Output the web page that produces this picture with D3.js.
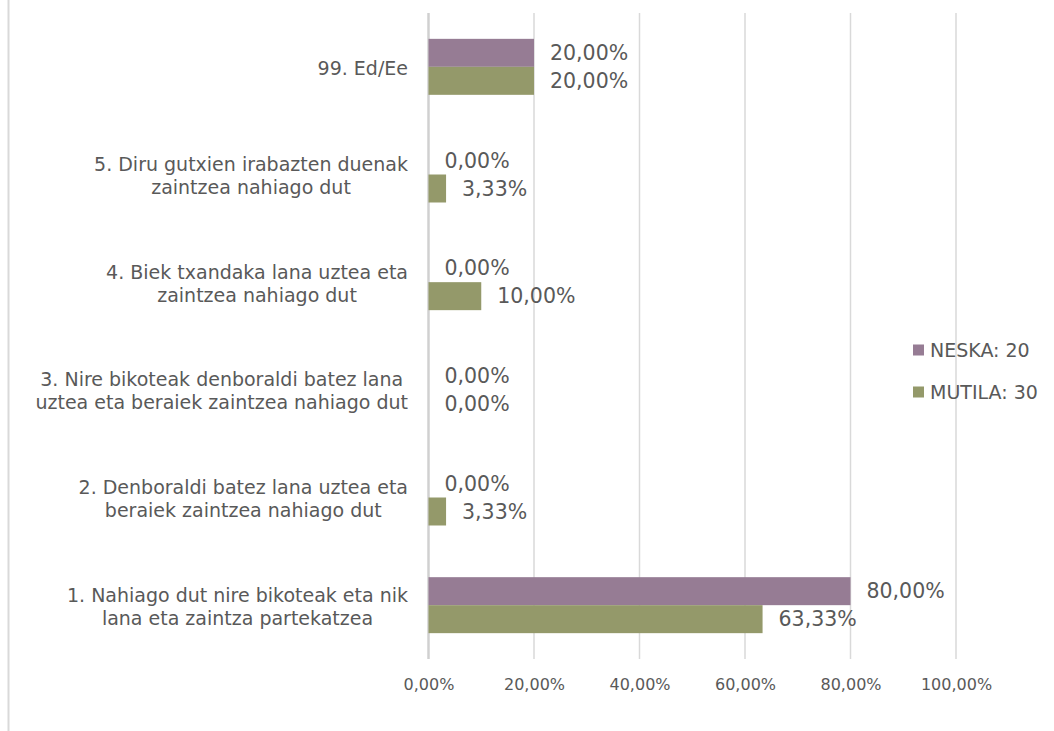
<!DOCTYPE html>
<html>
<head>
<meta charset="utf-8">
<script src="https://cdn.jsdelivr.net/npm/d3@7"></script>
<style>
  html, body { margin: 0; padding: 0; background: #fff; }
  svg { display: block; }
  text { font-family: "Century Gothic", "DejaVu Sans", sans-serif; fill: #595959; }
</style>
</head>
<body>
<svg id="chart" width="1054" height="731"></svg>
<script>
// Answer categories, top to bottom; each entry holds the label's lines
const categories = [
  ["99. Ed/Ee"],
  ["5. Diru gutxien irabazten duenak", "zaintzea nahiago dut"],
  ["4. Biek txandaka lana uztea eta", "zaintzea nahiago dut"],
  ["3. Nire bikoteak denboraldi batez lana", "uztea eta beraiek zaintzea nahiago dut"],
  ["2. Denboraldi batez lana uztea eta", "beraiek zaintzea nahiago dut"],
  ["1. Nahiago dut nire bikoteak eta nik", "lana eta zaintza partekatzea"]
];
const seriesNames = ["NESKA: 20", "MUTILA: 30"];
const neska  = [20, 0, 0, 0, 0, 80];
const mutila = [20, 3.33, 10, 0, 3.33, 63.33];
const xTicks = [0, 20, 40, 60, 80, 100];
const colors = ["#967c94", "#94996a"];

const svg = d3.select("#chart");
const keys = categories.map((c, i) => "c" + i);
const series = [neska, mutila];

const x = d3.scaleLinear().domain([0, 100]).range([428.5, 956]);
const y = d3.scaleBand().domain(keys).range([13, 659]).paddingInner(0.48).paddingOuter(0.24);
const ySub = d3.scaleBand().domain(d3.range(series.length)).range([0, y.bandwidth()]);

const fmt = v => d3.format(".2f")(v).replace(".", ",") + "%";

// outer frame edge on the left
svg.append("line")
  .attr("x1", 8.5).attr("x2", 8.5).attr("y1", 0).attr("y2", 731)
  .attr("stroke", "#d9d9d9").attr("stroke-width", 2);

// vertical gridlines
svg.append("g").selectAll("line").data(xTicks).join("line")
  .attr("x1", d => x(d)).attr("x2", d => x(d))
  .attr("y1", 13).attr("y2", 659)
  .attr("stroke", d => d === 0 ? "#d0d0d0" : "#d9d9d9")
  .attr("stroke-width", d => d === 0 ? 2.5 : 1.5);

// x axis tick labels
const xAxis = d3.axisBottom(x).tickValues(xTicks).tickSize(0).tickPadding(0)
  .tickFormat(d => fmt(d));
svg.append("g").attr("transform", "translate(0,684)").call(xAxis)
  .call(g => g.select(".domain").remove())
  .selectAll("text")
  .attr("dy", "0.35em").attr("y", 0)
  .style("font-size", "16px").style("font-family", null).attr("fill", "#595959");

// bars
const groups = svg.append("g").selectAll("g").data(keys).join("g")
  .attr("transform", k => `translate(0,${y(k)})`);

groups.selectAll("rect")
  .data((k, i) => series.map((s, j) => ({ j, v: s[i] })))
  .join("rect")
  .attr("x", x(0))
  .attr("y", d => ySub(d.j))
  .attr("width", d => x(d.v) - x(0))
  .attr("height", ySub.bandwidth())
  .attr("fill", d => colors[d.j]);

// value labels
groups.selectAll("text.val")
  .data((k, i) => series.map((s, j) => ({ j, v: s[i] })))
  .join("text")
  .attr("class", "val")
  .attr("x", d => x(d.v) + 16)
  .attr("y", d => ySub(d.j) + ySub.bandwidth() / 2)
  .attr("dy", "0.35em")
  .style("font-size", "20.5px")
  .attr("fill", "#404040")
  .text(d => fmt(d.v));

// category labels: multi-line blocks centred, right edge on a common line
const labelRight = 408;
const lineH = 23;
categories.forEach((lines, i) => {
  const cy = y(keys[i]) + y.bandwidth() / 2 + 1.5;
  const t = svg.append("text")
    .style("font-size", "19px")
    .attr("text-anchor", "middle");
  lines.forEach((ln, li) => {
    t.append("tspan")
      .attr("y", cy + (li - (lines.length - 1) / 2) * lineH)
      .attr("dy", "0.35em")
      .text(ln);
  });
  let maxW = 0;
  t.selectAll("tspan").each(function () { maxW = Math.max(maxW, this.getComputedTextLength()); });
  t.selectAll("tspan").attr("x", labelRight - maxW / 2);
});

// legend
const legend = svg.append("g").selectAll("g").data(seriesNames).join("g")
  .attr("transform", (d, i) => `translate(913,${350 + i * 42})`);
legend.append("rect")
  .attr("x", 0).attr("y", -5.5).attr("width", 11).attr("height", 11)
  .attr("fill", (d, i) => colors[i]);
legend.append("text")
  .attr("x", 17).attr("y", 0).attr("dy", "0.35em")
  .style("font-size", "19px")
  .text(d => d);
</script>
</body>
</html>
